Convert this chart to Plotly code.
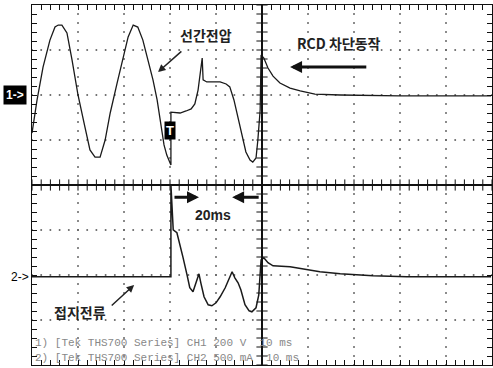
import numpy as np
import plotly.graph_objects as go

# ---- data (time in ms, ch1 in V, ch2 in mA) ----
ch1_t = [0, 1.1, 2.4, 3.9, 5.0, 5.7, 6.5, 7.6, 8.7, 10.0, 11.5, 12.6, 13.7, 14.8, 15.9, 17.0,
         18.5, 19.8, 20.9, 22.0, 23.0, 24.1, 25.2, 26.3, 27.2, 27.8, 28.7, 29.3, 30.2, 30.2,
         32.2, 33.5, 34.6, 35.4, 36.1, 37.0, 37.2, 38.0, 40.9, 42.2, 43.0, 43.9, 44.8, 45.7,
         46.5, 47.4, 48.0, 48.7, 49.1, 49.6, 49.8, 50.4, 51.3, 52.4, 53.9, 56.1, 58.3, 61.5,
         67.0, 80.0, 99.8]
ch1_v = [-169, -22, 124, 244, 302, 311, 311, 276, 156, 0, -142, -244, -276, -276, -200, -80,
         53, 169, 258, 311, 302, 244, 156, 67, -22, -111, -222, -267, -311, -76,
         -80, -71, -62, -40, 22, 164, 67, 58, 58, 49, 36, -22, -102, -191,
         -253, -289, -298, -280, -200, -67, 178, 164, 120, 84, 53, 31, 18, 4,
         0, -4, -4]

ch2_t = [0, 30.2, 30.2, 30.7, 31.5, 32.2, 32.8, 33.7, 34.3, 35.0, 35.7, 36.3, 36.7, 37.4,
         38.3, 39.1, 40.0, 40.9, 42.0, 42.8, 43.5, 44.1, 44.8, 45.4, 46.3, 47.2, 47.8, 48.7,
         49.3, 49.8, 50.4, 51.3, 52.4, 56.1, 59.8, 62.6, 67.0, 74.1, 81.5, 99.8]
ch2_i = [0, 0, 1022, 522, 489, 356, 222, 22, -122, -167, -67, 33, -67, -222,
         -311, -322, -289, -222, -122, -22, 56, -11, -67, -144, -311, -378, -389, -344,
         -200, 189, 211, 156, 122, 111, 78, 56, 33, 11, 0, 0]

CH1_SCALE = 200.0   # V/div
CH2_SCALE = 500.0   # mA/div
CH1_OFFSET = 2.0    # div
CH2_OFFSET = -2.04  # div

y1 = [CH1_OFFSET + v / CH1_SCALE for v in ch1_v]
y2 = [CH2_OFFSET + i / CH2_SCALE for i in ch2_i]

fig = go.Figure()

# graticule dots
gx, gy = [], []
for xm in [10, 20, 30, 40, 60, 70, 80, 90]:
    for yy in np.arange(-4, 4.01, 0.2):
        gx.append(xm); gy.append(yy)
for ym in [-3, -2, -1, 1, 2, 3]:
    for xx in np.arange(0, 100.01, 2):
        gx.append(xx); gy.append(ym)
fig.add_trace(go.Scatter(x=gx, y=gy, mode="markers",
                         marker=dict(size=2, color="#666"), hoverinfo="skip"))

# center axis ticks
cx = list(np.arange(0, 100.01, 2))
fig.add_trace(go.Scatter(x=cx, y=[0] * len(cx), mode="markers",
                         marker=dict(symbol="line-ns", size=8, line=dict(width=1, color="#111")),
                         hoverinfo="skip"))
cy = list(np.arange(-4, 4.01, 0.2))
fig.add_trace(go.Scatter(x=[50] * len(cy), y=cy, mode="markers",
                         marker=dict(symbol="line-ew", size=8, line=dict(width=1, color="#111")),
                         hoverinfo="skip"))

fig.add_trace(go.Scatter(x=ch1_t, y=y1, mode="lines", line=dict(color="#1a1a1a", width=1.3)))
fig.add_trace(go.Scatter(x=ch2_t, y=y2, mode="lines", line=dict(color="#1a1a1a", width=1.5)))

fig.add_shape(type="line", x0=50, x1=50, y0=-4, y1=4, line=dict(color="#111", width=2))
fig.add_shape(type="line", x0=0, x1=100, y0=0, y1=0, line=dict(color="#111", width=2))

KR = "Noto Sans CJK KR"
ann = []
ann.append(dict(xref="paper", x=-0.036, xanchor="center", y=CH1_OFFSET, text="<b>1-></b>",
                showarrow=False, bgcolor="black",
                font=dict(color="white", size=12, family="Arial"), borderpad=2))
ann.append(dict(xref="paper", x=-0.002, y=CH2_OFFSET, text="2->", showarrow=False, xanchor="right",
                font=dict(color="black", size=12, family="Arial")))
ann.append(dict(x=30.0, y=1.22, text="<b>T</b>", showarrow=False, bgcolor="black",
                font=dict(color="white", size=13, family="Arial"), borderpad=1))
ann.append(dict(x=37.8, y=3.33, text="<b>선간전압</b>", showarrow=False,
                font=dict(color="#222", size=14, family=KR)))
ann.append(dict(x=27.4, y=2.51, ax=32.8, ay=3.0, axref="x", ayref="y", text="",
                showarrow=True, arrowhead=2, arrowsize=1, arrowwidth=1.5, arrowcolor="#222"))
ann.append(dict(x=66.7, y=3.16, text="<b>RCD 차단동작</b>", showarrow=False,
                font=dict(color="#222", size=14, family=KR)))
ann.append(dict(x=56.1, y=2.62, ax=73.0, ay=2.62, axref="x", ayref="y", text="",
                showarrow=True, arrowhead=2, arrowsize=0.8, arrowwidth=3, arrowcolor="#111"))
ann.append(dict(x=39.3, y=-0.67, text="<b>20ms</b>", showarrow=False,
                font=dict(color="#222", size=14, family="Arial")))
ann.append(dict(x=36.3, y=-0.27, ax=30.65, ay=-0.27, axref="x", ayref="y", text="",
                showarrow=True, arrowhead=2, arrowsize=0.8, arrowwidth=3, arrowcolor="#111"))
ann.append(dict(x=43.5, y=-0.27, ax=49.6, ay=-0.27, axref="x", ayref="y", text="",
                showarrow=True, arrowhead=2, arrowsize=0.8, arrowwidth=3, arrowcolor="#111"))
ann.append(dict(x=10.4, y=-2.82, text="<b>접지전류</b>", showarrow=False,
                font=dict(color="#222", size=14, family=KR)))
ann.append(dict(x=22.2, y=-2.22, ax=17.0, ay=-2.71, axref="x", ayref="y", text="",
                showarrow=True, arrowhead=2, arrowsize=1, arrowwidth=1.5, arrowcolor="#222"))
ann.append(dict(x=0.2, y=-3.51, text="1) [Tek THS700 Series] CH1 200 V  10 ms", showarrow=False,
                xanchor="left", font=dict(color="#888", size=11, family="Liberation Mono")))
ann.append(dict(x=0.2, y=-3.84, text="2) [Tek THS700 Series] CH2 500 mA  10 ms", showarrow=False,
                xanchor="left", font=dict(color="#888", size=11, family="Liberation Mono")))

axis_common = dict(showgrid=False, zeroline=False, showline=True, linecolor="#111", linewidth=1,
                   mirror="allticks", ticks="inside", ticklen=5, tickcolor="#111",
                   showticklabels=False, fixedrange=True)

fig.update_layout(
    width=493, height=368,
    margin=dict(l=32, r=1, t=5, b=3),
    paper_bgcolor="white", plot_bgcolor="white",
    showlegend=False,
    xaxis=dict(range=[0, 100], tick0=0, dtick=2, **axis_common),
    yaxis=dict(range=[-4, 4], tick0=-4, dtick=0.2, **axis_common),
    annotations=ann,
)

fig.write_html("out.html")
